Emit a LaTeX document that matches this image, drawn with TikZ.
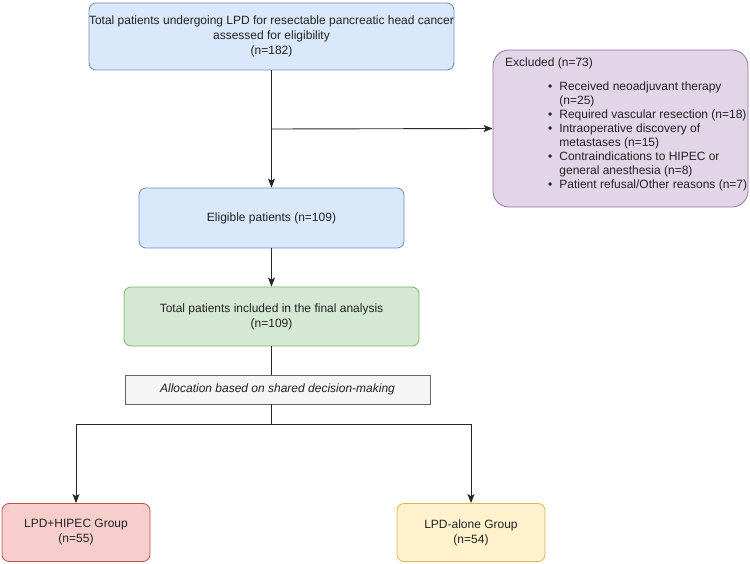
\documentclass[tikz,border=0pt]{standalone}
\usepackage{fontspec}
\setmainfont{Liberation Sans}
\usetikzlibrary{arrows.meta}
\definecolor{bfill}{HTML}{DAE8FC}\definecolor{bdraw}{HTML}{6C8EBF}
\definecolor{gfill}{HTML}{D5E8D4}\definecolor{gdraw}{HTML}{82B366}
\definecolor{pfill}{HTML}{E1D5E7}\definecolor{pdraw}{HTML}{9673A6}
\definecolor{rfill}{HTML}{F8CECC}\definecolor{rdraw}{HTML}{B85450}
\definecolor{yfill}{HTML}{FFF2CC}\definecolor{ydraw}{HTML}{D6B656}
\definecolor{afill}{HTML}{F5F5F5}\definecolor{adraw}{HTML}{666666}
\definecolor{txt}{HTML}{222222}
\begin{document}
\begin{tikzpicture}[x=1pt,y=-1pt,
  every node/.style={text=txt, font=\fontsize{12}{15}\selectfont},
  box/.style={draw, line width=0.8pt, rounded corners=7pt, align=center, inner sep=0pt},
  bluebox/.style={box, fill=bfill, draw=bdraw},
  greenbox/.style={box, fill=gfill, draw=gdraw},
  redbox/.style={box, fill=rfill, draw=rdraw},
  yellowbox/.style={box, fill=yfill, draw=ydraw},
  purplebox/.style={box, fill=pfill, draw=pdraw, rounded corners=16pt},
  allocbox/.style={draw=adraw, fill=afill, line width=0.8pt, align=center, inner sep=0pt},
  conn/.style={draw=black!85, line width=0.9pt},
  arr/.style={conn, -{Stealth[length=9pt,width=7pt,inset=2pt]}}
]
\useasboundingbox (0,0) rectangle (750,564);

\node[bluebox, minimum width=363pt, minimum height=67pt] (top) at (271.5,36.5)
  {Total patients undergoing LPD for resectable pancreatic head cancer\\assessed for eligibility\\(n=182)};
\node[purplebox, minimum width=255pt, minimum height=157pt] (excl) at (620.5,128.5) {};
\node[anchor=base west, inner sep=0pt] (excltitle) at (505,67) {Excluded (n=73)};
\node[anchor=north west, inner sep=0pt, align=left] (excllist) at (548,80)
  {\fontsize{12}{14.1}\selectfont
   \begin{tabular}{@{}l@{\hspace{7pt}}l@{}}
   \textbullet & Received neoadjuvant therapy\\
    & (n=25)\\
   \textbullet & Required vascular resection (n=18)\\
   \textbullet & Intraoperative discovery of\\
    & metastases (n=15)\\
   \textbullet & Contraindications to HIPEC or\\
    & general anesthesia (n=8)\\
   \textbullet & Patient refusal/Other reasons (n=7)
   \end{tabular}};
\node[bluebox, minimum width=265pt, minimum height=60pt] (elig) at (271.5,218) {Eligible patients (n=109)};
\node[greenbox, minimum width=295pt, minimum height=59pt] (final) at (271.5,316.5)
  {Total patients included in the final analysis\\(n=109)};
\node[allocbox, minimum width=305pt, minimum height=29pt] (alloc) at (277.5,389.5)
  {\itshape Allocation based on shared decision-making};
\node[redbox, minimum width=148pt, minimum height=58pt] (hipec) at (76,532.5) {LPD+HIPEC Group\\(n=55)};
\node[yellowbox, minimum width=148pt, minimum height=58pt] (alone) at (471,532.5) {LPD-alone Group\\(n=54)};

\coordinate (split) at (271.5,129);
\coordinate (fork) at (271.5,424);
\coordinate (forkl) at (76,424);
\coordinate (forkr) at (471,424);

\draw[arr] (top.south) -- (elig.north);
\draw[arr] (split) -- (excl.west);
\draw[arr] (elig.south) -- (final.north);
\draw[conn] (final.south) -- (final.south |- alloc.north);
\draw[conn] (final.south |- alloc.south) -- (fork);
\draw[conn] (forkl) -- (forkr);
\draw[arr] (forkl) -- (hipec.north);
\draw[arr] (forkr) -- (alone.north);
\end{tikzpicture}
\end{document}
